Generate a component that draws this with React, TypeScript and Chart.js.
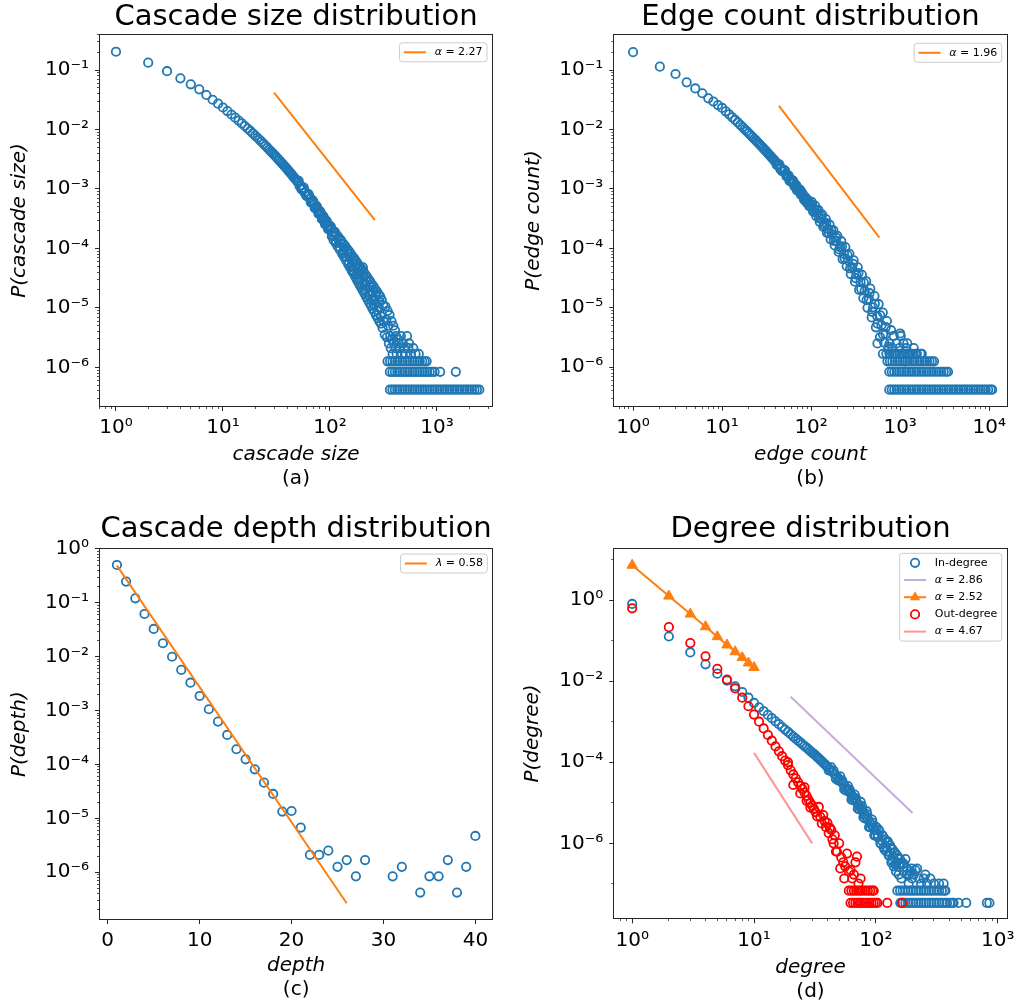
import React, { useEffect, useRef } from 'react';
import { Chart, registerables } from 'chart.js';

Chart.register(...registerables);
Chart.defaults.font.family = "'DejaVu Sans', 'Liberation Sans', sans-serif";
Chart.defaults.color = '#000';

// ---------------- (a) cascade size ----------------
const sizeHeadX = [1, 2, 3, 4, 5, 6, 7, 8, 9, 10, 11, 12, 13, 14, 15, 16, 17, 18, 19, 20, 21, 22, 23, 24, 25, 26, 27, 28, 29, 30];
const sizeHeadP = [0.203, 0.133, 0.0955, 0.0724, 0.0575, 0.0473, 0.038, 0.0316, 0.0272, 0.0234, 0.0204, 0.01786, 0.0158, 0.01413, 0.01265, 0.01143, 0.01038, 0.00944, 0.00861, 0.00789, 0.00726, 0.0067, 0.00618, 0.00573, 0.00531, 0.00494, 0.0046, 0.00429, 0.00403, 0.00378];
const sizeMidX = [32, 34, 36, 38, 40, 42, 44, 46, 48, 50, 53, 56, 59, 62, 65, 68, 71, 74, 77, 80, 83, 86, 89, 92, 95, 98];
const sizeMidP = [0.00334, 0.00296, 0.00264, 0.00237, 0.00214, 0.00192, 0.00174, 0.00157, 0.00144, 0.00131, 0.00114, 0.001, 8.8e-4, 7.8e-4, 6.9e-4, 6.1e-4, 5.5e-4, 4.9e-4, 4.4e-4, 3.94e-4, 3.56e-4, 3.23e-4, 2.93e-4, 2.65e-4, 2.42e-4, 2.22e-4];
const sizeMid2X = [51, 54, 57, 60, 63, 66, 69, 72, 75, 78, 81, 84, 87, 90, 93, 96, 99];
const sizeMid2P = [1.37e-3, 9.95e-4, 1.05e-3, 7.7e-4, 8.2e-4, 6.0e-4, 6.4e-4, 4.8e-4, 5.15e-4, 3.85e-4, 4.2e-4, 3.1e-4, 3.45e-4, 2.53e-4, 2.9e-4, 2.1e-4, 2.41e-4];
const sizeMid3X = [31, 33, 35, 37, 39, 41, 43, 45, 47, 49, 52, 55, 58, 61, 64, 67, 70, 73, 76, 79, 82, 85, 88, 91, 94, 97];
const sizeMid3P = [3.56e-3, 3.13e-3, 2.79e-3, 2.5e-3, 2.25e-3, 2.02e-3, 1.83e-3, 1.65e-3, 1.5e-3, 1.37e-3, 1.11e-3, 9.75e-4, 8.6e-4, 7.57e-4, 7.65e-4, 5.9e-4, 6.07e-4, 4.72e-4, 4.85e-4, 3.8e-4, 3.94e-4, 3.11e-4, 3.24e-4, 2.56e-4, 2.68e-4, 2.13e-4];
const sizeTailX = [102, 104, 106, 108, 110, 111, 113, 116, 118, 121, 124, 127, 130, 133, 135, 136, 139, 142, 145, 148, 151, 154, 157, 160, 161, 163, 166, 169, 172, 175, 178, 181, 184, 186, 187, 190, 193, 196, 199, 202, 203, 206, 210, 211, 214, 218, 222, 226, 230, 234, 236, 238, 242, 246, 250, 255, 260, 261, 265, 270, 275, 280, 285, 286, 290, 295, 300, 305, 310, 315, 320, 325, 330, 335, 340, 345, 350, 355, 360, 365, 370, 375, 380, 385, 390, 395, 405, 410, 415, 420, 430, 440, 450, 460, 470, 480, 495, 510, 525, 540, 548, 570, 600, 630, 675];
const sizeTailP = [2.32e-4, 1.6e-4, 1.87e-4, 1.38e-4, 1.61e-4, 1.89e-4, 1.24e-4, 1.67e-4, 1.08e-4, 1.52e-4, 9.4e-5, 1.36e-4, 8.1e-5, 1.2e-4, 9.2e-5, 7.1e-5, 1.09e-4, 6.2e-5, 9.7e-5, 5.4e-5, 8.9e-5, 4.8e-5, 8.0e-5, 4.2e-5, 5.6e-5, 7.3e-5, 3.8e-5, 6.7e-5, 3.36e-5, 6.1e-5, 2.99e-5, 5.6e-5, 2.7e-5, 3.7e-5, 5.1e-5, 2.4e-5, 4.8e-5, 2.2e-5, 4.4e-5, 1.97e-5, 4.8e-5, 4.05e-5, 1.75e-5, 2.56e-5, 3.63e-5, 1.53e-5, 3.33e-5, 1.37e-5, 2.98e-5, 1.21e-5, 1.82e-5, 2.75e-5, 1.09e-5, 2.49e-5, 9.7e-6, 2.29e-5, 8.6e-6, 1.35e-5, 2.05e-5, 7.5e-6, 1.87e-5, 6.7e-6, 1.68e-5, 1.03e-5, 5.9e-6, 1.55e-5, 5.4e-6, 1.35e-5, 4.6e-6, 1.1e-5, 5.8e-6, 3.55e-6, 1.05e-5, 6.3e-6, 3.2e-6, 8.9e-6, 5.0e-6, 2.52e-6, 7.6e-6, 3.36e-6, 2.1e-6, 6.0e-6, 2.94e-6, 1.68e-6, 5.0e-6, 2.52e-6, 4.2e-6, 2.1e-6, 3.36e-6, 1.68e-6, 2.94e-6, 2.52e-6, 2.1e-6, 3.36e-6, 1.68e-6, 2.52e-6, 2.1e-6, 1.68e-6, 3.36e-6, 2.1e-6, 2.52e-6, 1.68e-6, 2.1e-6, 1.68e-6, 1.68e-6];
const sizeFillX = [101, 105, 109, 114, 119, 123, 128, 132, 137, 141, 146, 150, 155, 159, 164, 168, 173, 177, 182, 188, 194, 200, 207, 213, 220, 228, 237, 244, 252, 258, 267, 277, 288, 298];
const sizeFillP = [2.24e-4, 1.67e-4, 1.83e-4, 1.31e-4, 1.45e-4, 1.05e-4, 1.19e-4, 8.65e-5, 9.95e-5, 7.2e-5, 8.5e-5, 5.97e-5, 7.2e-5, 5.0e-5, 6.2e-5, 4.2e-5, 5.4e-5, 3.6e-5, 4.7e-5, 3.0e-5, 3.9e-5, 2.47e-5, 3.3e-5, 2.02e-5, 2.78e-5, 1.64e-5, 2.24e-5, 1.33e-5, 1.89e-5, 1.1e-5, 1.58e-5, 9.0e-6, 1.27e-5, 7.2e-6];
const sizeRowLevels = [4.2e-7, 8.4e-7, 1.26e-6];
const sizeRow1X = [363, 383, 404, 426, 450, 475, 501, 528, 557, 588, 620, 654, 690, 728, 768, 810, 855, 902, 952, 1004, 1059, 1117, 1178, 1243, 1311, 1383, 1459, 1539, 1624, 1713, 1807, 1906, 2011, 2122, 2238, 2361, 2485];
const sizeRow2X = [363, 383, 404, 426, 450, 475, 501, 528, 557, 588, 620, 654, 690, 728, 768, 810, 855, 902, 950, 1070, 1500];
const sizeRow3X = [345, 364, 384, 405, 427, 450, 475, 501, 528, 557, 588, 620, 654, 690, 728, 767, 800];
const sizeFitX = [30, 263];
const sizeFitP = [0.0415, 3.0e-4];
const sizeXTickValues = [1, 10, 100, 1000];
const sizeXTickLabels = ['10⁰', '10¹', '10²', '10³'];
const probYTickValues = [1e-6, 1e-5, 1e-4, 1e-3, 1e-2, 1e-1];
const probYTickLabels = ['10⁻⁶', '10⁻⁵', '10⁻⁴', '10⁻³', '10⁻²', '10⁻¹'];

// ---------------- (b) edge count ----------------
const edgeHeadX = [1, 2, 3, 4, 5, 6, 7, 8, 9, 10, 11, 12, 13, 14, 15, 16, 17, 18, 19, 20];
const edgeHeadP = [0.2, 0.114, 0.0857, 0.062, 0.049, 0.0407, 0.0334, 0.0295, 0.0257, 0.023, 0.0202, 0.01795, 0.016, 0.01445, 0.01312, 0.01197, 0.01096, 0.01007, 0.00929, 0.0086];
const edgeMidX = [22, 24, 26, 28, 30, 32, 34, 36, 38, 40, 43, 46, 49, 52, 55, 58, 61, 64, 67, 70, 74, 78, 82, 86, 90, 94, 98];
const edgeMidP = [0.00746, 0.00653, 0.00575, 0.00512, 0.00458, 0.00414, 0.00374, 0.0034, 0.0031, 0.00284, 0.00251, 0.00223, 0.002, 0.00179, 0.00162, 0.00147, 0.00134, 0.00122, 0.00111, 0.00102, 9.2e-4, 8.3e-4, 7.5e-4, 6.8e-4, 6.2e-4, 5.7e-4, 5.3e-4];
const edgeMid2X = [45, 51, 57, 63, 69, 76, 84, 92];
const edgeMid2P = [2.16e-3, 2.03e-3, 1.38e-3, 1.35e-3, 9.6e-4, 9.5e-4, 6.5e-4, 6.55e-4];
const edgeMid3X = [21, 23, 25, 27, 29, 31, 33, 35, 37, 39, 41, 44, 47, 50, 53, 56, 59, 62, 65, 68, 71, 74, 77, 80, 83, 86, 89, 92, 95];
const edgeMid3P = [8.0e-3, 6.95e-3, 6.12e-3, 5.43e-3, 4.84e-3, 4.35e-3, 3.92e-3, 3.56e-3, 3.25e-3, 2.97e-3, 2.54e-3, 2.59e-3, 2.0e-3, 2.07e-3, 1.62e-3, 1.67e-3, 1.32e-3, 1.39e-3, 1.1e-3, 1.16e-3, 9.3e-4, 9.8e-4, 7.9e-4, 8.4e-4, 6.8e-4, 7.3e-4, 5.9e-4, 6.3e-4, 5.14e-4];
const edgeTailX = [102, 105, 108, 111, 114, 117, 121, 125, 129, 133, 137, 141, 146, 151, 156, 161, 166, 172, 178, 184, 190, 197, 204, 211, 218, 226, 234, 242, 251, 260, 269, 279, 289, 300, 311, 322, 334, 346, 359, 372, 386, 400, 415, 430, 446, 462, 479, 497, 515, 534, 553, 573, 594, 616, 638, 661, 685, 710, 736, 762, 790, 818, 848, 880, 910, 980, 1000, 1015, 1050, 1090, 1130, 1170, 1200, 1210, 1310, 1420, 1540, 1690, 1750, 556];
const edgeTailP = [6.0e-4, 4.2e-4, 4.6e-4, 5.2e-4, 3.5e-4, 3.9e-4, 4.4e-4, 2.8e-4, 3.2e-4, 3.7e-4, 2.3e-4, 2.6e-4, 3.1e-4, 1.82e-4, 2.1e-4, 2.5e-4, 1.41e-4, 1.7e-4, 2.0e-4, 1.12e-4, 1.35e-4, 1.62e-4, 8.7e-5, 1.05e-4, 1.32e-4, 6.6e-5, 8.1e-5, 1.05e-4, 5.0e-5, 6.3e-5, 8.1e-5, 3.7e-5, 4.8e-5, 6.3e-5, 2.75e-5, 3.6e-5, 4.8e-5, 2.0e-5, 2.7e-5, 3.6e-5, 1.45e-5, 1.95e-5, 2.8e-5, 1.0e-5, 1.41e-5, 2.1e-5, 6.9e-6, 1.02e-5, 1.58e-5, 4.7e-6, 7.2e-6, 1.15e-5, 3.2e-6, 5.1e-6, 8.3e-6, 2.6e-6, 3.6e-6, 6.0e-6, 2.0e-6, 2.5e-6, 4.2e-6, 2.1e-6, 3.36e-6, 1.68e-6, 2.52e-6, 2.1e-6, 3.7e-6, 3.36e-6, 1.68e-6, 2.52e-6, 1.26e-6, 2.1e-6, 2.52e-6, 1.68e-6, 1.68e-6, 2.1e-6, 1.68e-6, 1.68e-6, 1.68e-6, 2.52e-6];
const edgeFillX = [103, 110, 116, 123, 131, 139, 148, 158, 168, 180, 192, 207, 222, 238, 256, 274, 295, 316, 340, 365, 392, 420, 452, 485, 520, 558, 598, 642, 690, 740];
const edgeFillP = [5.48e-4, 4.06e-4, 4.39e-4, 3.2e-4, 3.45e-4, 2.45e-4, 2.67e-4, 1.83e-4, 2.03e-4, 1.34e-4, 1.51e-4, 9.6e-5, 1.08e-4, 6.8e-5, 7.7e-5, 4.6e-5, 5.5e-5, 3.16e-5, 3.83e-5, 2.07e-5, 2.63e-5, 1.35e-5, 1.76e-5, 8.55e-6, 1.17e-5, 5.4e-6, 7.5e-6, 3.57e-6, 4.75e-6, 2.21e-6];
const edgeRowLevels = [4.2e-7, 8.4e-7, 1.26e-6, 1.68e-6];
const edgeRow1X = [755, 805, 858, 915, 975, 1040, 1108, 1181, 1259, 1342, 1431, 1525, 1626, 1733, 1847, 1969, 2099, 2238, 2386, 2543, 2711, 2890, 3081, 3284, 3501, 3732, 3978, 4241, 4521, 4819, 5137, 5476, 5838, 6223, 6634, 7072, 7539, 8036, 8567, 9132, 9735, 10380, 10800];
const edgeRow2X = [755, 805, 858, 915, 975, 1040, 1108, 1181, 1259, 1342, 1431, 1525, 1626, 1733, 1847, 1969, 2099, 2238, 2386, 2543, 2711, 2890, 3081, 3284, 3450];
const edgeRow3X = [720, 768, 818, 872, 930, 991, 1057, 1127, 1201, 1280, 1365, 1455, 1551, 1653, 1762, 1879, 2003, 2135, 2276, 2400];
const edgeRow4X = [640, 700, 760, 830, 900, 980, 1070, 1160, 1260, 1380, 1500];
const edgeFitX = [43.5, 585];
const edgeFitP = [0.025, 1.52e-4];
const edgeXTickValues = [1, 10, 100, 1000, 10000];
const edgeXTickLabels = ['10⁰', '10¹', '10²', '10³', '10⁴'];

// ---------------- (c) cascade depth ----------------
const depthX = [1, 2, 3, 4, 5, 6, 7, 8, 9, 10, 11, 12, 13, 14, 15, 16, 17, 18, 19, 20, 21, 22, 23, 24, 25, 26, 27, 28, 31, 32, 34, 35, 36, 37, 38, 39, 40];
const depthP = [0.505, 0.248, 0.1215, 0.0622, 0.0328, 0.0178, 0.01, 0.0057, 0.0033, 0.00187, 0.00106, 6.25e-4, 3.54e-4, 1.92e-4, 1.25e-4, 8.15e-5, 4.6e-5, 2.84e-5, 1.34e-5, 1.37e-5, 6.75e-6, 2.1e-6, 2.1e-6, 2.52e-6, 1.26e-6, 1.68e-6, 8.4e-7, 1.68e-6, 8.4e-7, 1.26e-6, 4.2e-7, 8.4e-7, 8.4e-7, 1.68e-6, 4.2e-7, 1.26e-6, 4.72e-6];
const depthFitX = [1, 26];
const depthFitP = [0.49, 2.66e-7];
const depthXTickValues = [0, 10, 20, 30, 40];
const depthXTickLabels = ['0', '10', '20', '30', '40'];
const depthYTickValues = [1e-6, 1e-5, 1e-4, 1e-3, 1e-2, 1e-1, 1];
const depthYTickLabels = ['10⁻⁶', '10⁻⁵', '10⁻⁴', '10⁻³', '10⁻²', '10⁻¹', '10⁰'];

// ---------------- (d) degree ----------------
const inHeadX = [1, 2, 3, 4, 5, 6, 7, 8, 9, 10, 11, 12, 13, 14, 15, 16, 17, 18, 19, 20, 21, 22, 23, 24, 25, 26, 27, 28, 29, 30, 31, 32, 33, 34, 35, 36, 37, 38, 39, 40];
const inHeadP = [0.8, 0.126, 0.051, 0.026, 0.0153, 0.0103, 0.00746, 0.0054, 0.0039, 0.0029, 2.26e-3, 1.81e-3, 1.47e-3, 1.22e-3, 1.02e-3, 8.7e-4, 7.4e-4, 6.4e-4, 5.6e-4, 4.9e-4, 4.3e-4, 3.84e-4, 3.41e-4, 3.07e-4, 2.76e-4, 2.5e-4, 2.28e-4, 2.07e-4, 1.89e-4, 1.73e-4, 1.6e-4, 1.47e-4, 1.34e-4, 1.24e-4, 1.14e-4, 1.05e-4, 9.8e-5, 9.0e-5, 8.4e-5, 7.8e-5];
const inMidX = [42, 44, 46, 48, 50, 52, 54, 56, 58, 60, 62, 64, 66, 68, 70, 72, 74, 76, 78, 80, 83, 86, 89, 92, 95, 98];
const inMidP = [6.7e-5, 5.8e-5, 5.0e-5, 4.4e-5, 3.83e-5, 3.3e-5, 2.87e-5, 2.5e-5, 2.19e-5, 1.92e-5, 1.7e-5, 1.49e-5, 1.3e-5, 1.14e-5, 1.01e-5, 9.0e-6, 8.0e-6, 7.1e-6, 6.4e-6, 5.4e-6, 4.6e-6, 3.9e-6, 3.35e-6, 2.86e-6, 2.46e-6, 2.14e-6];
const inMid2X = [43, 47, 51, 55, 59, 63, 67, 71, 75, 79, 84, 88, 93, 97];
const inMid2P = [7.5e-5, 3.9e-5, 4.5e-5, 2.14e-5, 2.58e-5, 1.2e-5, 1.6e-5, 7.2e-6, 1.05e-5, 4.4e-6, 6.2e-6, 2.5e-6, 3.84e-6, 1.58e-6];
const inMid3X = [41, 45, 49, 53, 57, 61, 65, 69, 73, 77, 81, 85, 90, 94, 99];
const inMid3P = [6.3e-5, 6.2e-5, 3.56e-5, 3.54e-5, 1.98e-5, 2.12e-5, 1.16e-5, 1.29e-5, 6.9e-6, 8.3e-6, 4.1e-6, 5.2e-6, 2.52e-6, 3.27e-6, 1.61e-6];
const inTailX = [101, 103, 104, 107, 110, 112, 113, 116, 119, 121, 122, 125, 128, 130, 131, 134, 137, 139, 140, 143, 146, 148, 150, 154, 157, 158, 162, 166, 170, 175, 180, 186, 192, 198, 205, 211, 218, 226, 235, 247, 255, 263, 280, 300, 330, 360];
const inTailP = [2.5e-6, 1.7e-6, 1.41e-6, 2.0e-6, 1.0e-6, 1.17e-6, 1.58e-6, 7.9e-7, 1.26e-6, 8.3e-7, 6.3e-7, 1.12e-6, 5.0e-7, 6.0e-7, 8.9e-7, 3.4e-7, 7.1e-7, 4.5e-7, 2.72e-7, 6.0e-7, 2.04e-7, 3.4e-7, 5.0e-7, 1.7e-7, 2.6e-7, 4.1e-7, 1.36e-7, 3.06e-7, 2.04e-7, 4.1e-7, 1.7e-7, 1.02e-7, 2.04e-7, 1.36e-7, 1.7e-7, 2.2e-7, 2.38e-7, 1.36e-7, 1.02e-7, 1.36e-7, 1.7e-7, 1.02e-7, 1.36e-7, 1.02e-7, 1.02e-7, 1.02e-7];
const inFillX = [105, 109, 114, 118, 124, 127, 133, 136, 142, 145, 152, 160, 168, 178, 188, 196];
const inFillP = [2.2e-6, 1.0e-6, 1.52e-6, 7.0e-7, 1.05e-6, 5.3e-7, 7.6e-7, 3.86e-7, 5.8e-7, 3.0e-7, 4.3e-7, 3.1e-7, 3.2e-7, 2.5e-7, 1.7e-7, 2.38e-7];
const degRowLevels = [3.4e-8, 6.8e-8];
const inRow1X = [159, 167, 175, 184, 193, 203, 213, 224, 235, 247, 259, 272, 286, 300, 315, 331, 348, 365, 384, 404, 424, 434, 477, 552, 815, 855];
const inRow2X = [150, 158, 166, 175, 184, 193, 203, 213, 224, 235, 247, 259, 272, 286, 300, 315, 331, 348, 365, 372];
const outHeadX = [1, 2, 3, 4, 5, 6, 7, 8, 9, 10, 11, 12, 13, 14, 15, 16, 17, 18, 19, 20, 21, 22, 23, 24, 25, 26, 27, 28, 29, 30];
const outHeadP = [0.625, 0.214, 0.0866, 0.041, 0.02, 0.0109, 0.0066, 0.0039, 0.0024, 0.0015, 1.0e-3, 6.8e-4, 4.7e-4, 3.4e-4, 2.45e-4, 1.86e-4, 1.41e-4, 1.1e-4, 8.5e-5, 6.3e-5, 5.0e-5, 4.0e-5, 3.2e-5, 2.6e-5, 2.2e-5, 1.78e-5, 1.48e-5, 1.2e-5, 1.0e-5, 8.5e-6];
const outExtraX = [19, 21, 24, 26, 27, 29];
const outExtraP = [1.0e-4, 2.75e-5, 1.7e-5, 2.4e-5, 1.12e-5, 7.6e-6];
const outTailX = [31, 32, 33, 34, 35, 36, 37, 38, 39, 40, 41, 42, 43, 44, 45, 46, 47, 48, 50, 51, 52, 54, 55, 56, 58, 60, 62, 64, 66, 68, 70, 72, 75];
const outTailP = [7.1e-6, 5.9e-6, 4.6e-6, 7.9e-6, 4.5e-6, 3.1e-6, 5.0e-6, 3.55e-6, 2.5e-6, 3.2e-6, 1.78e-6, 2.4e-6, 2.14e-6, 1.26e-6, 1.0e-6, 1.58e-6, 6.3e-7, 6.2e-7, 1.0e-6, 2.4e-7, 4.5e-7, 3.4e-7, 1.36e-7, 2.72e-7, 5.6e-7, 2.04e-7, 2.2e-7, 1.36e-7, 1.7e-7, 3.4e-7, 4.7e-7, 1.02e-7, 1.36e-7];
const outRow1X = [62, 65, 68, 71, 74, 77, 80, 84, 88, 92, 96, 100, 103, 124, 164];
const outRow2X = [60, 63, 66, 69, 72, 75, 78, 82, 86, 90, 94, 96];
const inFitX = [20, 200];
const inFitP = [0.0041, 5.6e-6];
const midFitX = [1, 2, 3, 4, 5, 6, 7, 8, 9, 10];
const midFitP = [7.2, 1.25, 0.45, 0.22, 0.125, 0.078, 0.053, 0.038, 0.028, 0.0217];
const outFitX = [10, 30];
const outFitP = [1.7e-4, 1.0e-6];
const degXTickValues = [1, 10, 100, 1000];
const degXTickLabels = ['10⁰', '10¹', '10²', '10³'];
const degYTickValues = [1e-6, 1e-4, 1e-2, 1];
const degYTickLabels = ['10⁻⁶', '10⁻⁴', '10⁻²', '10⁰'];
const degYMinorValues = [1e-7, 1e-5, 1e-3, 1e-1, 10];

// ---------------- styling ----------------
const BLUE = '#1f77b4';
const ORANGE = '#ff7f0e';
const RED = '#ff0000';
const PURPLE_FIT = 'rgba(148,103,189,0.55)';
const PINK_FIT = 'rgba(255,0,0,0.42)';
const FRAME = '#262626';
const RING_R = 4.2;
const RING_W = 1.8;

type Pt = { x: number; y: number };
const pairs = (xs: number[], ys: number[]): Pt[] => xs.map((x, i) => ({ x, y: ys[i] }));
const row = (xs: number[], level: number): Pt[] => xs.map((x) => ({ x, y: level }));

function logMinors(min: number, max: number): number[] {
  const out: number[] = [];
  for (let e = Math.floor(Math.log10(min)); e <= Math.ceil(Math.log10(max)); e++) {
    for (let m = 2; m <= 9; m++) {
      const v = m * Math.pow(10, e);
      if (v >= min && v <= max) out.push(v);
    }
  }
  return out;
}

const scatterDs = (label: string, data: Pt[], color: string, order: number) => ({
  label, data, order, showLine: false,
  pointStyle: 'circle', pointRadius: RING_R, pointHoverRadius: RING_R,
  pointBorderColor: color, pointBackgroundColor: 'rgba(0,0,0,0)', pointBorderWidth: RING_W,
  borderColor: color, backgroundColor: 'rgba(0,0,0,0)',
});
const lineDs = (label: string, data: Pt[], color: string, order: number) => ({
  label, data, order, showLine: true, pointRadius: 0, pointHoverRadius: 0,
  borderColor: color, backgroundColor: color, borderWidth: 2, tension: 0, fill: false,
});

type LegendEntry = { kind: 'line' | 'circle' | 'lineTriangle'; color: string; parts: [string, boolean][] };

function makeLegendPlugin(entries: LegendEntry[], topGap: number, rightGap: number) {
  return {
    id: 'mplLegend',
    afterDatasetsDraw(chart: any) {
      const { ctx, chartArea } = chart;
      const fs = 11;
      const normal = `${fs}px 'DejaVu Sans'`;
      const italic = `italic ${fs}px 'DejaVu Sans'`;
      ctx.save();
      let textW = 0;
      for (const e of entries) {
        let w = 0;
        for (const [t, it] of e.parts) { ctx.font = it ? italic : normal; w += ctx.measureText(t).width; }
        textW = Math.max(textW, w);
      }
      const pad = 4.4, handle = 22, gap = 8.8, rowStep = 17.2, edge = 9.5;
      const w = pad + handle + gap + textW + pad;
      const h = edge * 2 + rowStep * (entries.length - 1);
      const x0 = chartArea.right - rightGap - w;
      const y0 = chartArea.top + topGap;
      const r = 3;
      ctx.beginPath();
      ctx.moveTo(x0 + r, y0);
      ctx.lineTo(x0 + w - r, y0);
      ctx.arcTo(x0 + w, y0, x0 + w, y0 + r, r);
      ctx.lineTo(x0 + w, y0 + h - r);
      ctx.arcTo(x0 + w, y0 + h, x0 + w - r, y0 + h, r);
      ctx.lineTo(x0 + r, y0 + h);
      ctx.arcTo(x0, y0 + h, x0, y0 + h - r, r);
      ctx.lineTo(x0, y0 + r);
      ctx.arcTo(x0, y0, x0 + r, y0, r);
      ctx.closePath();
      ctx.fillStyle = 'rgba(255,255,255,0.8)';
      ctx.fill();
      ctx.strokeStyle = '#cccccc';
      ctx.lineWidth = 1;
      ctx.stroke();
      entries.forEach((e, i) => {
        const cy = y0 + edge + i * rowStep;
        const hx0 = x0 + pad, hx1 = hx0 + handle, hcx = (hx0 + hx1) / 2;
        if (e.kind === 'line' || e.kind === 'lineTriangle') {
          ctx.beginPath(); ctx.moveTo(hx0, cy); ctx.lineTo(hx1, cy);
          ctx.strokeStyle = e.color; ctx.lineWidth = 2; ctx.stroke();
        }
        if (e.kind === 'lineTriangle') {
          const rr = 6;
          ctx.beginPath();
          ctx.moveTo(hcx, cy - rr);
          ctx.lineTo(hcx + rr * Math.sin(2 * Math.PI / 3), cy - rr * Math.cos(2 * Math.PI / 3));
          ctx.lineTo(hcx + rr * Math.sin(4 * Math.PI / 3), cy - rr * Math.cos(4 * Math.PI / 3));
          ctx.closePath();
          ctx.fillStyle = e.color; ctx.fill();
        }
        if (e.kind === 'circle') {
          ctx.beginPath(); ctx.arc(hcx, cy, RING_R, 0, Math.PI * 2);
          ctx.strokeStyle = e.color; ctx.lineWidth = RING_W; ctx.stroke();
        }
        let tx = hx1 + gap;
        ctx.textBaseline = 'middle';
        ctx.textAlign = 'left';
        ctx.fillStyle = '#000';
        for (const [t, it] of e.parts) {
          ctx.font = it ? italic : normal;
          ctx.fillText(t, tx, cy);
          tx += ctx.measureText(t).width;
        }
      });
      ctx.restore();
    },
  };
}

const framePlugin = {
  id: 'frame',
  afterDatasetsDraw(chart: any) {
    const { ctx, chartArea: a } = chart;
    ctx.save();
    ctx.strokeStyle = FRAME;
    ctx.lineWidth = 1;
    const l = Math.round(a.left) + 0.5, t = Math.round(a.top) + 0.5;
    const r = Math.round(a.right) - 0.5, b = Math.round(a.bottom) - 0.5;
    ctx.strokeRect(l, t, r - l, b - t);
    ctx.restore();
  },
};

type AxisSpec = {
  type: 'logarithmic' | 'linear'; min: number; max: number;
  major: number[]; labels: string[]; minor: number[];
  title: string; size: number; titlePad: number;
};

type PanelSpec = {
  left: number; top: number; width: number; height: number;
  title: string; sub: string; titlePadTop: number; titlePadBottom: number;
  padRight: number; padBottom: number;
  x: AxisSpec; y: AxisSpec;
  datasets: any[]; legend: LegendEntry[]; legendTop: number;
};

function makeScale(axis: 'x' | 'y', s: AxisSpec) {
  return {
    type: s.type, min: s.min, max: s.max, position: axis === 'x' ? 'bottom' : 'left',
    afterBuildTicks: (sc: any) => {
      sc.ticks = [
        ...s.major.map((v) => ({ value: v, major: true })),
        ...s.minor.map((v) => ({ value: v, major: false })),
      ].sort((p, q) => p.value - q.value);
    },
    afterFit: (sc: any) => {
      if (axis === 'x') sc.height = s.size; else sc.width = s.size;
      sc.paddingLeft = 0; sc.paddingRight = 0; sc.paddingTop = 0; sc.paddingBottom = 0;
    },
    ticks: {
      autoSkip: false, maxRotation: 0, minRotation: 0, padding: axis === 'x' ? 5 : 6,
      font: { size: 20 }, color: '#000',
      callback: (_v: any, i: number, t: any[]) => {
        const tk = t[i];
        if (!tk || !tk.major) return '';
        const k = s.major.indexOf(tk.value);
        return k >= 0 ? s.labels[k] : '';
      },
    },
    grid: {
      display: true, drawOnChartArea: false, drawTicks: true, tickLength: 4,
      color: FRAME, tickColor: FRAME,
      tickWidth: (c: any) => (c.tick && c.tick.major ? 1 : 0.8),
      tickBorderDash: (c: any) => (c.tick && c.tick.major ? [] : axis === 'x' ? [2, 100] : [0, 2, 2, 100]),
    },
    border: { display: false },
    title: {
      display: true, text: s.title, color: '#000',
      font: { size: 20, style: 'italic', lineHeight: 1.2 },
      padding: axis === 'x' ? { top: 0, bottom: 0 } : { top: s.titlePad, bottom: 0 },
    },
  };
}

const alpha = (v: string): [string, boolean][] => [['α', true], [' = ' + v, false]];

const panels: PanelSpec[] = [
  {
    left: 0, top: 0, width: 510, height: 500,
    title: 'Cascade size distribution', sub: '(a)', titlePadTop: 0, titlePadBottom: 0,
    padRight: 17, padBottom: 9,
    x: { type: 'logarithmic', min: 0.694, max: 3337, major: sizeXTickValues, labels: sizeXTickLabels, minor: logMinors(0.694, 3337), title: 'cascade size', size: 60, titlePad: 0 },
    y: { type: 'logarithmic', min: 2.15e-7, max: 0.4033, major: probYTickValues, labels: probYTickLabels, minor: logMinors(2.15e-7, 0.4033), title: 'P(cascade size)', size: 99, titlePad: 7.5 },
    datasets: [
      lineDs('α = 2.27', pairs(sizeFitX, sizeFitP), ORANGE, 0),
      scatterDs('cascade size', [
        ...pairs(sizeHeadX, sizeHeadP), ...pairs(sizeMidX, sizeMidP), ...pairs(sizeMid2X, sizeMid2P),
        ...pairs(sizeMid3X, sizeMid3P), ...pairs(sizeTailX, sizeTailP), ...pairs(sizeFillX, sizeFillP),
        ...row(sizeRow1X, sizeRowLevels[0]), ...row(sizeRow2X, sizeRowLevels[1]), ...row(sizeRow3X, sizeRowLevels[2]),
      ], BLUE, 1),
    ],
    legend: [{ kind: 'line', color: ORANGE, parts: alpha('2.27') }], legendTop: 8.8,
  },
  {
    left: 510, top: 0, width: 510, height: 500,
    title: 'Edge count distribution', sub: '(b)', titlePadTop: 0, titlePadBottom: 0.3,
    padRight: 12.3, padBottom: 9.3,
    x: { type: 'logarithmic', min: 0.64, max: 16140, major: edgeXTickValues, labels: edgeXTickLabels, minor: logMinors(0.64, 16140), title: 'edge count', size: 60, titlePad: 0 },
    y: { type: 'logarithmic', min: 2.17e-7, max: 0.399, major: probYTickValues, labels: probYTickLabels, minor: logMinors(2.17e-7, 0.399), title: 'P(edge count)', size: 103.3, titlePad: 11.5 },
    datasets: [
      lineDs('α = 1.96', pairs(edgeFitX, edgeFitP), ORANGE, 0),
      scatterDs('edge count', [
        ...pairs(edgeHeadX, edgeHeadP), ...pairs(edgeMidX, edgeMidP), ...pairs(edgeMid2X, edgeMid2P),
        ...pairs(edgeMid3X, edgeMid3P), ...pairs(edgeTailX, edgeTailP), ...pairs(edgeFillX, edgeFillP),
        ...row(edgeRow1X, edgeRowLevels[0]), ...row(edgeRow2X, edgeRowLevels[1]),
        ...row(edgeRow3X, edgeRowLevels[2]), ...row(edgeRow4X, edgeRowLevels[3]),
      ], BLUE, 1),
    ],
    legend: [{ kind: 'line', color: ORANGE, parts: alpha('1.96') }], legendTop: 9,
  },
  {
    left: 0, top: 500, width: 510, height: 508,
    title: 'Cascade depth distribution', sub: '(c)', titlePadTop: 12, titlePadBottom: 2.3,
    padRight: 16.7, padBottom: 6.2,
    x: { type: 'linear', min: -0.95, max: 41.95, major: depthXTickValues, labels: depthXTickLabels, minor: [], title: 'depth', size: 57.8, titlePad: 0 },
    y: { type: 'logarithmic', min: 1.3e-7, max: 1.03, major: depthYTickValues, labels: depthYTickLabels, minor: logMinors(1.3e-7, 1.03), title: 'P(depth)', size: 99, titlePad: 7.3 },
    datasets: [
      lineDs('λ = 0.58', pairs(depthFitX, depthFitP), ORANGE, 0),
      scatterDs('depth', pairs(depthX, depthP), BLUE, 1),
    ],
    legend: [{ kind: 'line', color: ORANGE, parts: [['λ', true], [' = 0.58', false]] }], legendTop: 5.7,
  },
  {
    left: 510, top: 500, width: 510, height: 508,
    title: 'Degree distribution', sub: '(d)', titlePadTop: 12.3, titlePadBottom: 1.4,
    padRight: 12.3, padBottom: 3.9,
    x: { type: 'logarithmic', min: 0.721, max: 1208, major: degXTickValues, labels: degXTickLabels, minor: logMinors(0.721, 1208), title: 'degree', size: 60.8, titlePad: 0 },
    y: { type: 'logarithmic', min: 1.34e-8, max: 19.5, major: degYTickValues, labels: degYTickLabels, minor: degYMinorValues, title: 'P(degree)', size: 103.3, titlePad: 11 },
    datasets: [
      lineDs('α = 2.86', pairs(inFitX, inFitP), PURPLE_FIT, 0),
      {
        ...lineDs('α = 2.52', pairs(midFitX, midFitP), ORANGE, 0),
        pointStyle: 'triangle', pointRadius: 6, pointHoverRadius: 6,
        pointBackgroundColor: ORANGE, pointBorderColor: ORANGE, pointBorderWidth: 1,
      },
      lineDs('α = 4.67', pairs(outFitX, outFitP), PINK_FIT, 0),
      scatterDs('Out-degree', [
        ...pairs(outHeadX, outHeadP), ...pairs(outExtraX, outExtraP), ...pairs(outTailX, outTailP),
        ...row(outRow1X, degRowLevels[0]), ...row(outRow2X, degRowLevels[1]),
      ], RED, 1),
      scatterDs('In-degree', [
        ...pairs(inHeadX, inHeadP), ...pairs(inMidX, inMidP), ...pairs(inMid2X, inMid2P), ...pairs(inMid3X, inMid3P),
        ...pairs(inTailX, inTailP), ...pairs(inFillX, inFillP), ...row(inRow1X, degRowLevels[0]), ...row(inRow2X, degRowLevels[1]),
      ], BLUE, 2),
    ],
    legend: [
      { kind: 'circle', color: BLUE, parts: [['In-degree', false]] },
      { kind: 'line', color: PURPLE_FIT, parts: alpha('2.86') },
      { kind: 'lineTriangle', color: ORANGE, parts: alpha('2.52') },
      { kind: 'circle', color: RED, parts: [['Out-degree', false]] },
      { kind: 'line', color: PINK_FIT, parts: alpha('4.67') },
    ],
    legendTop: 5.6,
  },
];

function Panel({ spec }: { spec: PanelSpec }) {
  const ref = useRef<HTMLCanvasElement>(null);
  useEffect(() => {
    if (!ref.current) return;
    const chart = new Chart(ref.current, {
      type: 'scatter',
      data: { datasets: spec.datasets },
      options: {
        animation: false,
        responsive: false,
        maintainAspectRatio: false,
        devicePixelRatio: 1,
        events: [],
        layout: { padding: { left: 0, right: spec.padRight, top: 0, bottom: spec.padBottom } },
        scales: { x: makeScale('x', spec.x), y: makeScale('y', spec.y) } as any,
        plugins: {
          legend: { display: false },
          tooltip: { enabled: false },
          title: {
            display: true, text: spec.title, color: '#000', fullSize: false,
            font: { size: 29, weight: 'normal', lineHeight: 34 / 29 },
            padding: { top: spec.titlePadTop, bottom: spec.titlePadBottom },
          },
          subtitle: {
            display: true, position: 'bottom', text: spec.sub, color: '#000', fullSize: false,
            font: { size: 20, weight: 'normal', lineHeight: 1.2 },
            padding: { top: 0, bottom: 0 },
          },
        },
      } as any,
      plugins: [framePlugin, makeLegendPlugin(spec.legend, spec.legendTop, 6)],
    });
    return () => chart.destroy();
  }, [spec]);
  return (
    <canvas
      ref={ref}
      width={spec.width}
      height={spec.height}
      style={{ position: 'absolute', left: spec.left, top: spec.top, width: spec.width, height: spec.height }}
    />
  );
}

export default function App() {
  return (
    <div style={{ position: 'absolute', left: 0, top: 0, width: 1020, height: 1008, background: '#fff', overflow: 'hidden' }}>
      {panels.map((p, i) => (
        <Panel key={i} spec={p} />
      ))}
    </div>
  );
}
